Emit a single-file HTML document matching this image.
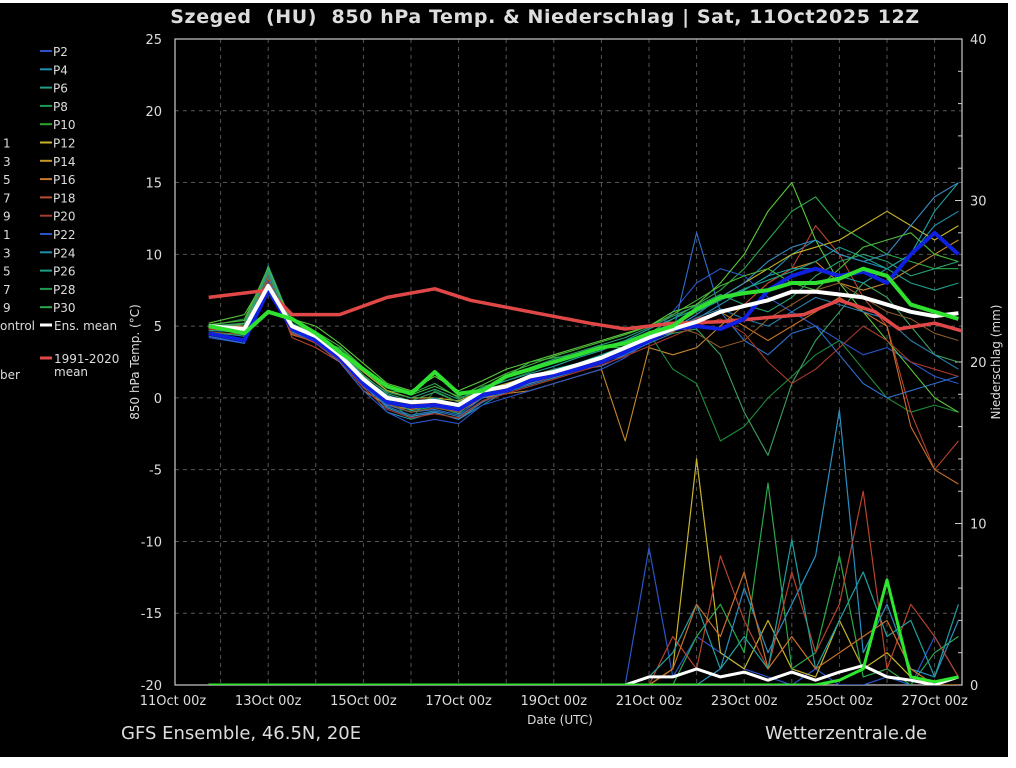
<!DOCTYPE html>
<html><head><meta charset="utf-8"><style>
html,body{margin:0;padding:0;background:#fff;width:1016px;height:768px;overflow:hidden}
#bg{position:absolute;left:0;top:3px;width:1008px;height:754px;background:#000}
svg{position:absolute;left:0;top:0}
text{font-family:"DejaVu Sans","Liberation Sans",sans-serif;fill:#ddd}
</style></head><body>
<div id="bg"></div>
<svg id="chart" width="1016" height="768"></svg>
<script>
// time grid (hours after 11Oct 00z)
const hours=[18,36,48,60,72,84,96,108,120,132,144,156,168,180,192,204,216,228,240,252,264,276,288,300,312,324,336,348,360,372,384,396];
const tempTicks=[25,20,15,10,5,0,-5,-10,-15,-20];
const precipTicks=[40,30,20,10,0];
const dateLabels=["11Oct 00z","13Oct 00z","15Oct 00z","17Oct 00z","19Oct 00z","21Oct 00z","23Oct 00z","25Oct 00z","27Oct 00z"];
const ensMean=[5.0,4.8,7.8,5.0,4.3,3.0,1.3,0.0,-0.3,-0.2,-0.5,0.5,0.8,1.5,1.8,2.3,2.8,3.5,4.2,4.8,5.3,6.0,6.4,6.8,7.4,7.4,7.2,7.0,6.5,6.0,5.7,5.9];
const control=[5,4.5,6,5.5,4.5,3.2,2,0.8,0.3,1.8,0.3,0.5,1.5,2,2.5,3,3.5,3.8,4.5,5.0,6.2,7.0,7.3,7.5,8.0,8.0,8.3,9.0,8.5,6.5,6.0,5.5];
const blueMember=[4.5,4.0,7.5,4.8,4.0,2.8,1.0,-0.3,-0.6,-0.5,-0.8,0.2,0.5,1.2,1.6,2.0,2.5,3.2,4.0,4.8,5.0,4.8,5.5,7.5,8.5,9,8.5,8.8,8.0,10,11.5,10];
const climHours=[18,48,60,84,108,132,150,180,210,228,252,276,300,318,336,354,366,384,402];
const climMean=[7.0,7.5,5.8,5.8,7.0,7.6,6.8,6.0,5.2,4.8,5.2,5.3,5.6,5.8,6.8,6.0,4.8,5.2,4.5];
const members=[
[4.5,4.0,9.0,5.0,4.5,3.0,1.0,-1.0,-1.5,-1.0,-1.5,-0.5,0.5,1.0,1.5,2.0,2.5,3.0,4.0,5.0,5.5,6.5,7.5,8.5,10,11,10,9.5,9,10,12,13],
[5,5.5,9,4.5,4,3.5,2,0.5,0.3,1,0,0.5,1.5,2.5,2.8,3,3.5,3.5,4.5,5.5,6.5,7.5,9,11,13,14,12,11,10,9.5,9,9],
[5,5,8.5,4.5,4.0,2.5,0.5,-0.5,-0.8,-0.5,-1,0,0.3,0.5,1,1.5,2,-3,3.5,3.0,3.5,5,6.5,8,9,9.5,8,7.5,8,9,10,11],
[4.2,3.8,8.8,5,4,2.5,0.5,-1.0,-1.8,-1.5,-1.8,-0.5,0,0.5,1,1.5,2,2.8,4,6,8,9,8.5,7,6,5,4,3,3.5,2.5,1.5,1],
[5,5.5,8,5,4.5,3,1.5,0,-1.5,0.5,-0.3,0.8,1.2,1.8,2.5,3,3.5,4,4.5,2,1,-3,-2,0,1.5,3,4,2,0,-1,-0.5,-1],
[4.8,4.5,8.5,4.2,3.5,2.5,1,-0.3,-0.5,-0.3,-0.8,0,0.5,1,1.5,2,2.5,3.2,4,4.8,5.5,6,6.5,8,9,12,10,7,5,-1,-5,-3],
[4.8,5.2,8.8,4.8,4.2,3.2,1.8,0.5,0,0,-0.2,0.5,1,1.5,2,2.3,2.7,3.5,4.2,5,6,7,8,9,10,10.5,11,12,13,12,11,12],
[4.3,3.8,8,4.6,3.8,2.5,0.8,-0.5,-1,-0.8,-1.2,0,0.5,1.2,1.5,2,2.2,3,3.8,4.5,11.5,6,4,3,4.5,5,3,1,0,0.5,1,1.5],
[4.6,4.3,9.2,5.2,4.4,3.3,1.4,0.2,-0.4,0,-0.5,0.6,1.2,1.7,2.2,2.8,3.3,4,4.8,5.5,6.2,7,7.5,8.5,9,9,8.5,8,9,10,13,15],
[5.2,5.8,8.6,5.5,5,3.8,2.4,1,0.5,1.5,0.5,1.2,2,2.5,3,3.5,4,4.5,5,6,6.5,8,10,13,15,11,8,6,4,2,0,-1],
[4.9,5,8.3,4.4,3.9,2.8,1,-0.2,-0.6,-0.4,-0.9,0.2,0.7,1.3,1.8,2.2,2.6,3.3,4,4.6,5.3,6,5,4,5,6,7,6,5,-2,-5,-6],
[5,5.2,9,5,4.3,3.4,1.6,0.3,-0.2,0.4,-0.3,0.5,1.5,2,2.6,3,3.4,3.8,4.2,4.5,4.8,3,-1,-4,1,4,6,8,7,5,3,2.5],
[4.5,4,8.7,4.8,4.1,3,1.1,-0.7,-1.3,-1,-1.5,-0.3,0.5,1,1.6,2.1,2.6,3.3,4.1,4.8,5.8,7,8,9.5,10.5,11,10,9.5,10,12,14,15],
[4.7,4.6,8.9,4.9,4.2,3.1,1.2,-0.1,-0.9,-0.6,-1.1,0.3,0.8,1.4,2.0,2.4,3.0,3.6,4.4,5.2,6.0,6.8,7.6,8.2,8.8,9.5,10.5,9.8,9.0,8.0,7.5,8.0],
[4.4,4.1,8.4,4.6,3.9,2.7,0.9,-0.6,-1.2,-0.9,-1.3,-0.2,0.4,0.9,1.4,1.9,2.4,3.1,3.9,4.7,5.6,6.2,5.5,5.0,6.0,7.0,6.5,6.0,5.5,4.0,3.0,2.0],
[5.1,5.4,9.1,5.1,4.6,3.6,2.1,0.7,0.2,0.8,0.1,0.9,1.7,2.3,2.9,3.4,3.9,4.4,5.0,5.8,6.8,7.8,8.5,9.0,8.0,7.5,9.0,10.5,11.0,11.5,10.0,9.5],
[4.6,4.4,8.6,4.7,4.0,2.9,1.0,-0.4,-1.0,-0.7,-1.0,0.1,0.6,1.1,1.7,2.2,2.7,3.4,4.2,5.0,4.5,3.5,4.0,5.5,6.5,7.5,8.0,7.0,6.0,5.5,4.5,4.0],
[5.0,5.1,8.7,4.9,4.3,3.3,1.5,0.4,0.0,0.6,-0.1,0.7,1.4,2.1,2.7,3.2,3.7,4.2,4.9,5.7,6.4,7.2,6.5,6.0,7.0,8.5,9.5,10.0,9.5,8.5,9.0,9.5],
[4.8,4.7,8.2,4.5,3.8,2.6,0.7,-0.8,-1.4,-1.1,-1.4,-0.2,0.3,0.8,1.3,1.8,2.3,2.9,3.6,4.3,5.0,5.5,4.5,2.5,1.0,2.0,3.5,5.0,4.0,2.5,2.0,1.5]
];
const memberColors=["#1f8fb0","#2aa84a","#c9882a","#2a55c8","#1e8a3a","#b8432e","#c8b42a","#2e6fd0","#1f9fa0","#5ac83a","#c8702a","#3aa060","#3a88c0","#1f9f8a","#2a7fb0","#4ab83a","#8a5a2a","#2aa070","#a83a2e"];
const precip=[
[0,0,0,0,0,0,0,0,0,0,0,0,0,0,0,0,0,0,8.5,0.5,3,2,1,0.5,0,1,0,0,0.5,0,3,0.5],
[0,0,0,0,0,0,0,0,0,0,0,0,0,0,0,0,0,0,0,1,14,2,1,4,1,0.5,4,1,2,0.5,0,0],
[0,0,0,0,0,0,0,0,0,0,0,0,0,0,0,0,0,0,0,0,3,5,2,12.5,1,2,8,0.5,1,0,2,3],
[0,0,0,0,0,0,0,0,0,0,0,0,0,0,0,0,0,0,0,0,0,1,6,2,5,8,17,2,5,1,0.5,4],
[0,0,0,0,0,0,0,0,0,0,0,0,0,0,0,0,0,0,0,3,1,8,4,1,7,2,5,12,1,5,3,0.5],
[0,0,0,0,0,0,0,0,0,0,0,0,0,0,0,0,0,0,0.5,2,5,1,3,1,9,1,4,7,3,4,0.5,5],
[0,0,0,0,0,0,0,0,0,0,0,0,0,0,0,0,0,0,0,1,5,3,7,1,3,1,2,3,4,1,0,0]
];
const precipColors=["#2a55c8","#c8b42a","#2aa84a","#2a8fc0","#b8432e","#1f9fa0","#c8702a"];
const precipMean=[0,0,0,0,0,0,0,0,0,0,0,0,0,0,0,0,0,0,0.5,0.5,1,0.5,0.8,0.3,0.8,0.3,0.8,1.2,0.5,0.3,0,0.5];
const precipControl=[0,0,0,0,0,0,0,0,0,0,0,0,0,0,0,0,0,0,0,0,0,0,0,0,0,0,0.3,1,6.5,0.5,0.2,0.5];

const X0=173,DAY=47.6,L=175,R=962,T=39,B=685;
const xS=h=>X0+h/24*DAY;
const yT=v=>B-(v+20)/45*(B-T);
const yP=v=>B-v/40*(B-T);
const svg=document.getElementById('chart');
const NS="http://www.w3.org/2000/svg";
function mk(tag,attrs,parent){const e=document.createElementNS(NS,tag);for(const k in attrs)e.setAttribute(k,attrs[k]);(parent||svg).appendChild(e);return e;}
function txt(s,x,y,attrs){const e=mk('text',Object.assign({x:x,y:y},attrs||{}));e.textContent=s;return e;}

const defs=mk('defs',{});const cp=mk('clipPath',{id:'pc'},defs);mk('rect',{x:L,y:T,width:R-L,height:B-T},cp);
const grid=mk('g',{});


tempTicks.forEach(v=>{if(v>-20&&v<25)mk('line',{x1:L,x2:R,y1:yT(v),y2:yT(v),stroke:'#555','stroke-dasharray':'4,4','stroke-width':1},grid);});
for(let d=1;d<=16;d++){const x=X0+d*DAY;if(x<R)mk('line',{x1:x,x2:x,y1:T,y2:B,stroke:'#555','stroke-dasharray':'4,4','stroke-width':1},grid);}
const frame=mk('rect',{x:L,y:T,width:R-L,height:B-T,fill:'none',stroke:'#ccc','stroke-width':1.2});


tempTicks.forEach(v=>{const t=txt(String(v),162,yT(v)+5,{'text-anchor':'end','font-size':13});

});
for(let m=0;m<=40;m+=2){mk('line',{x1:R-(m%10==0?7:4),x2:R,y1:yP(m),y2:yP(m),stroke:'#ccc'});}
precipTicks.forEach(v=>{const t=txt(String(v),970,yP(v)+5,{'font-size':13});

});
dateLabels.forEach((s,i)=>{const t=txt(s,X0+i*2*DAY,705,{'text-anchor':'middle','font-size':13});

});

const plot=mk('g',{'clip-path':'url(#pc)'});


function pts(hs,vals,ys){return vals.map((v,i)=>xS(hs[i]).toFixed(1)+','+ys(v).toFixed(1)).join(' ');}
function line(hs,vals,ys,color,w,name){const p=mk('polyline',{points:pts(hs,vals,ys),fill:'none',stroke:color,'stroke-width':w,'stroke-linejoin':'round'},plot);

return p;}
precip.forEach((s,i)=>line(hours,s,yP,precipColors[i],1.2,'precip-member-'+(i+1)));
line(hours,precipMean,yP,'#fff',3,'precip-ens-mean');
line(hours,precipControl,yP,'#2ee82e',3,'precip-control');
members.forEach((s,i)=>line(hours,s,yT,memberColors[i],1.1,'temp-member-'+(i+1)));
line(climHours,climMean,yT,'#e04848',3.5,'climate-mean-line');
line(hours,blueMember,yT,'#1020e0',4,'temp-member-bold-blue');
line(hours,ensMean,yT,'#fff',4,'ens-mean-line');
line(hours,control,yT,'#30e030',4,'control-line');

let t;
t=txt('Szeged  (HU)  850 hPa Temp. & Niederschlag | Sat, 11Oct2025 12Z',545,23,{'text-anchor':'middle','font-size':19,'font-weight':'bold','letter-spacing':'0.6',style:'white-space:pre'});

t=txt('850 hPa Temp. (°C)',0,0,{'text-anchor':'middle','font-size':12,transform:'translate(139,362) rotate(-90)'});

t=txt('Niederschlag (mm)',0,0,{'text-anchor':'middle','font-size':12,transform:'translate(1000,362) rotate(-90)'});

t=txt('Date (UTC)',560,724,{'text-anchor':'middle','font-size':12});

t=txt('GFS Ensemble, 46.5N, 20E',121,739,{'font-size':18});

t=txt('Wetterzentrale.de',765,739,{'font-size':18});


const legNames=["P2","P4","P6","P8","P10","P12","P14","P16","P18","P20","P22","P24","P26","P28","P30"];
const legColors=["#2a55c8","#1f8fb0","#1f9f8a","#1e9a50","#2aa82a","#c8b42a","#c8962a","#c8782a","#b8502e","#a83a2e","#2a55c8","#1f8fb0","#1f9f8a","#1e9a50","#2aa84a"];
const leftDigits=["","","","","","1","3","5","7","9","1","3","5","7","9"];
legNames.forEach((n,i)=>{const y=51+i*18.3;
const g=mk('g',{});


mk('line',{x1:40,x2:52,y1:y,y2:y,stroke:legColors[i],'stroke-width':2},g);
const a=txt(n,53,y+5,{'font-size':12});g.appendChild(a);
if(leftDigits[i]){const b=txt(leftDigits[i],3,y+5,{'font-size':12});g.appendChild(b);}
});
let g=mk('g',{});
mk('line',{x1:40,x2:52,y1:325,y2:325,stroke:'#fff','stroke-width':3},g);
g.appendChild(txt('Ens. mean',54,330,{'font-size':12}));
g=mk('g',{});
g.appendChild(txt('ontrol',0,330,{'font-size':12}));
g=mk('g',{});
mk('line',{x1:40,x2:52,y1:358,y2:358,stroke:'#e04848','stroke-width':3},g);
g.appendChild(txt('1991-2020',54,363,{'font-size':12}));
g.appendChild(txt('mean',54,376,{'font-size':12}));
g=mk('g',{});
g.appendChild(txt('ber',0,379,{'font-size':12}));
</script>
</body></html>
